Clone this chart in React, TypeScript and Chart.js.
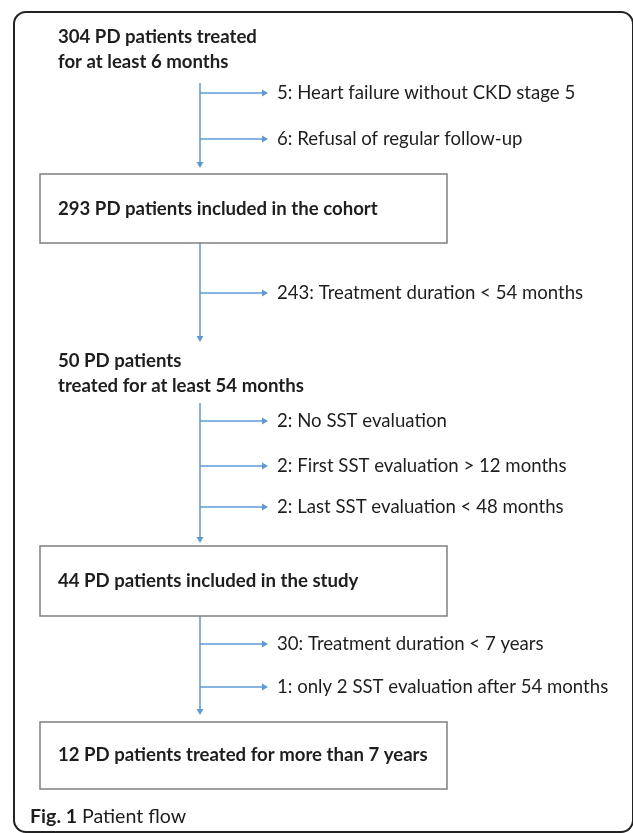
import React, { useEffect, useRef } from "react";
import { Chart, registerables } from "chart.js";

Chart.register(...registerables);

// ---- data ----
const stageLines: string[][] = [
  ["304 PD patients treated", "for at least 6 months"],
  ["293 PD patients included in the cohort"],
  ["50 PD patients", "treated for at least 54 months"],
  ["44 PD patients included in the study"],
  ["12 PD patients treated for more than 7 years"],
];
const stageBoxed = [false, true, false, true, true];
const exclusionCounts: number[][] = [[5, 6], [243], [2, 2, 2], [30, 1]];
const exclusionReasons: string[][] = [
  ["Heart failure without CKD stage 5", "Refusal of regular follow-up"],
  ["Treatment duration < 54 months"],
  ["No SST evaluation", "First SST evaluation > 12 months", "Last SST evaluation < 48 months"],
  ["Treatment duration < 7 years", "only 2 SST evaluation after 54 months"],
];
const captionBold = "Fig. 1";
const captionText = "Patient flow";

// ---- layout (pixel-like data space) ----
const W = 633;
const H = 833;
const stageTextY: number[][] = [[37, 62], [209], [361, 386], [581], [755]];
const stageBoxY: ([number, number] | null)[] = [null, [174, 243], null, [546, 616], [722, 789]];
const boxX: [number, number] = [40, 447];
const textX = 58;
const trunkX = 200;
const branchEndX = 268;
const exclTextX = 277;
const connectors: [number, number][] = [[83, 168], [243, 342], [403, 543], [616, 715]];
const branchY: number[][] = [[93, 139], [293], [421, 466, 507], [644, 687]];
const captionPos = { x: 30, y: 817 };

const BLUE = "#5b9bd5";
const GRAY = "#7f7f7f";
const TEXT = "#1e1e1e";
const FONT = "Lato, 'Open Sans', sans-serif";

export default function App() {
  const ref = useRef<HTMLCanvasElement | null>(null);
  useEffect(() => {
    document.body.style.margin = "0";
    const canvas = ref.current;
    if (!canvas) return;

    const datasets: any[] = [];
    // boxes
    stageBoxY.forEach((b, i) => {
      if (!b || !stageBoxed[i]) return;
      datasets.push({
        data: [
          { x: boxX[0], y: b[0] },
          { x: boxX[1], y: b[0] },
          { x: boxX[1], y: b[1] },
          { x: boxX[0], y: b[1] },
          { x: boxX[0], y: b[0] },
        ],
        showLine: true,
        borderColor: GRAY,
        borderWidth: 1.5,
        pointRadius: 0,
        borderCapStyle: "square",
      });
    });
    // trunks + branches
    const heads: any[] = [];
    const rots: number[] = [];
    connectors.forEach((c, i) => {
      datasets.push({
        data: [{ x: trunkX, y: c[0] }, { x: trunkX, y: c[1] - 4 }],
        showLine: true,
        borderColor: BLUE,
        borderWidth: 1.5,
        pointRadius: 0,
      });
      heads.push({ x: trunkX, y: c[1] - 4 });
      rots.push(180);
      branchY[i].forEach((by) => {
        datasets.push({
          data: [{ x: trunkX, y: by }, { x: branchEndX - 4, y: by }],
          showLine: true,
          borderColor: BLUE,
          borderWidth: 1.5,
          pointRadius: 0,
        });
        heads.push({ x: branchEndX - 4, y: by });
        rots.push(90);
      });
    });
    datasets.push({
      data: heads,
      showLine: false,
      pointStyle: "triangle",
      pointRadius: 4,
      pointHoverRadius: 4,
      pointRotation: rots,
      backgroundColor: BLUE,
      borderColor: BLUE,
      borderWidth: 0,
    });

    const textPlugin = {
      id: "flowText",
      beforeDatasetsDraw(chart: any) {
        const { ctx, scales } = chart;
        const px = (v: number) => scales.x.getPixelForValue(v);
        const py = (v: number) => scales.y.getPixelForValue(v);
        ctx.save();
        ctx.strokeStyle = "#222";
        ctx.lineWidth = 2;
        ctx.beginPath();
        (ctx as any).roundRect(px(14), py(12), px(633) - px(14), py(832) - py(12), 12);
        ctx.stroke();
        ctx.restore();
      },
      afterDatasetsDraw(chart: any) {
        const { ctx, scales } = chart;
        const px = (v: number) => scales.x.getPixelForValue(v);
        const py = (v: number) => scales.y.getPixelForValue(v);
        ctx.save();
        ctx.fillStyle = TEXT;
        ctx.textBaseline = "middle";
        ctx.textAlign = "left";
        ctx.font = `bold 18.6px ${FONT}`;
        stageLines.forEach((lines, i) => {
          lines.forEach((l, j) => ctx.fillText(l, px(textX), py(stageTextY[i][j])));
        });
        ctx.font = `18.6px ${FONT}`;
        exclusionReasons.forEach((grp, i) => {
          grp.forEach((r, j) => {
            ctx.fillText(`${exclusionCounts[i][j]}: ${r}`, px(exclTextX), py(branchY[i][j]));
          });
        });
        ctx.font = `bold 19.6px ${FONT}`;
        ctx.fillText(captionBold, px(captionPos.x), py(captionPos.y));
        const w = ctx.measureText(captionBold + " ").width;
        ctx.font = `19.6px ${FONT}`;
        ctx.fillText(captionText, px(captionPos.x) + w, py(captionPos.y));
        ctx.restore();
      },
    };

    const chart = new Chart(canvas, {
      type: "scatter",
      data: { datasets },
      options: {
        animation: false,
        responsive: true,
        maintainAspectRatio: false,
        events: [],
        layout: { padding: 0, autoPadding: false },
        plugins: { legend: { display: false }, tooltip: { enabled: false } },
        scales: {
          x: { type: "linear", min: 0, max: W, display: false },
          y: { type: "linear", min: 0, max: H, reverse: true, display: false },
        },
      },
      plugins: [textPlugin],
    });
    return () => chart.destroy();
  }, []);

  return (
    <div style={{ width: W, height: H, position: "relative" }}>
      <canvas ref={ref} style={{ display: "block" }} />
    </div>
  );
}
